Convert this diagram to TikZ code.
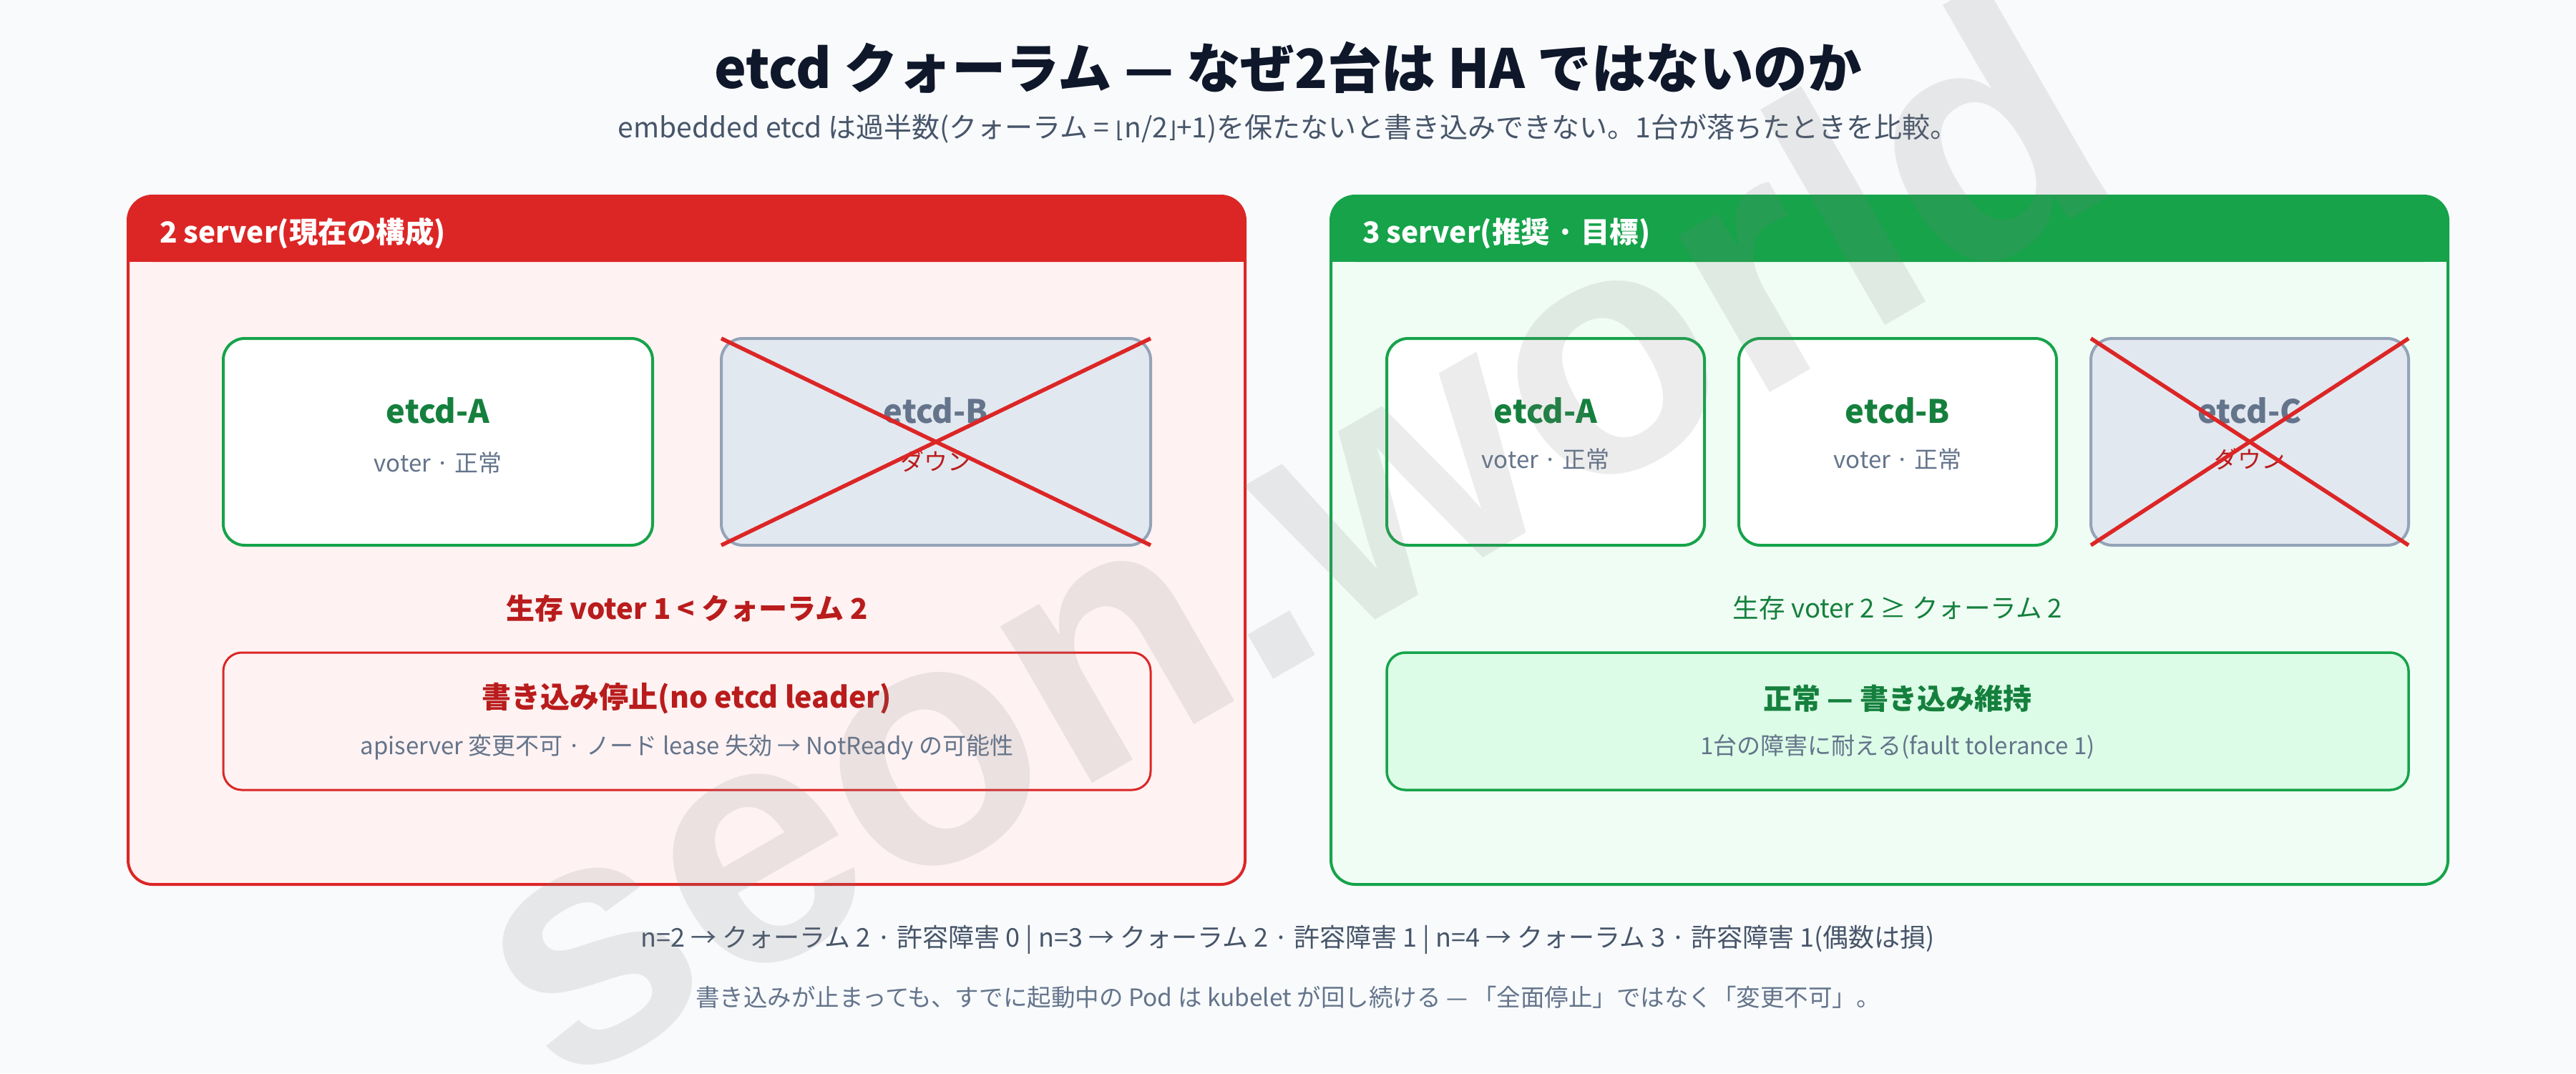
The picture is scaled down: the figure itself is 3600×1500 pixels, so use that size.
\documentclass[tikz,border=0pt]{standalone}
\usepackage{fontspec}
\setmainfont{Noto Sans CJK JP}
\newfontfamily\wmfont{Liberation Sans}
\newfontfamily\symfont{DejaVu Sans}
\definecolor{bgc}{HTML}{F8FAFC}
\definecolor{redc}{HTML}{DC2626}
\definecolor{redbg}{HTML}{FEF2F2}
\definecolor{redtext}{HTML}{B91C1C}
\definecolor{greenc}{HTML}{16A34A}
\definecolor{greenbg}{HTML}{F0FDF4}
\definecolor{greentext}{HTML}{15803D}
\definecolor{greenbox}{HTML}{DCFCE7}
\definecolor{downfill}{HTML}{E2E8F0}
\definecolor{downdraw}{HTML}{94A3B8}
\definecolor{graytext}{HTML}{64748B}
\definecolor{titlec}{HTML}{0F172A}
\definecolor{subc}{HTML}{475569}
\definecolor{wmgray}{HTML}{808080}
\newcommand{\fs}[1]{\fontsize{#1}{#1}\selectfont}
\begin{document}
\begin{tikzpicture}[x=1pt,y=-1pt,
  every node/.style={inner sep=0pt,outer sep=0pt},
  panelbox/.style={rounded corners=34pt,minimum width=1561pt,minimum height=962pt},
  okbox/.style={draw=greenc,fill=white,line width=4pt,rounded corners=30pt,minimum height=289pt},
  downbox/.style={draw=downdraw,fill=downfill,line width=4pt,rounded corners=30pt,minimum height=289pt},
  oklabel/.style={text=greentext,font=\bfseries\fs{45}},
  downlabel/.style={text=graytext,font=\bfseries\fs{45}},
  sublabel/.style={text=graytext,font=\fs{33}},
  downtag/.style={text=redtext,font=\fs{33}},
  crossline/.style={draw=redc,line width=5.5pt},
  headtext/.style={anchor=west,text=white,font=\bfseries\fs{40.5}},
]
\useasboundingbox (0,0) rectangle (3600,1500);
\fill[bgc] (0,0) rectangle (3600,1500);

% ---------- title ----------
\node[text=titlec,font=\bfseries\fs{75.5}] (title) at (1800,94) {etcd クォーラム — なぜ2台は HA ではないのか};
\node[text=subc,font=\fs{39}] (subtitle) at (1800,180) {embedded etcd は過半数(クォーラム = {\symfont\fs{31}⌊}n/2{\symfont\fs{31}⌋}+1)を保たないと書き込みできない。1台が落ちたときを比較。};

% ---------- left panel ----------
\node[panelbox,fill=redbg] (lp) at (959.5,755) {};
\fill[redc,rounded corners=34pt] (179,274) rectangle (1740,366);
\fill[redc] (179,320) rectangle (1740,366);
\draw[redc,line width=4pt,rounded corners=34pt] (lp.north west) rectangle (lp.south east);
\node[headtext] (lph) at (223,326) {2 server(現在の構成)};

\node[okbox,minimum width=600pt] (lA) at (612,617.5) {};
\node[oklabel] (lAt) at (612,574) {etcd-A};
\node[sublabel] (lAs) at (612,647) {voter · 正常};

\node[downbox,minimum width=600pt] (lB) at (1308,617.5) {};
\node[downlabel] (lBt) at (1308,574) {etcd-B};
\node[downtag] (lBs) at (1308,645) {ダウン};
\draw[crossline] (lB.north west) -- (lB.south east);
\draw[crossline] (lB.south west) -- (lB.north east);

\node[text=redtext,font=\bfseries\fs{40}] (lq) at (960,850) {生存 voter 1 < クォーラム 2};

\node[draw=redc,fill=redbg,line width=3pt,rounded corners=26pt,minimum width=1296pt,minimum height=192pt] (lr) at (960,1008) {};
\node[text=redtext,font=\bfseries\fs{41}] (lrt) at (960,976) {書き込み停止(no etcd leader)};
\node[sublabel] (lrs) at (960,1044) {apiserver 変更不可 · ノード lease 失効 → NotReady の可能性};

% ---------- right panel ----------
\node[panelbox,fill=greenbg] (rp) at (2640.5,755) {};
\fill[greenc,rounded corners=34pt] (1860,274) rectangle (3421,366);
\fill[greenc] (1860,320) rectangle (3421,366);
\draw[greenc,line width=4pt,rounded corners=34pt] (rp.north west) rectangle (rp.south east);
\node[headtext] (rph) at (1904,326) {3 server(推奨 · 目標)};

\node[okbox,minimum width=444pt] (rA) at (2160,617.5) {};
\node[oklabel] (rAt) at (2160,574) {etcd-A};
\node[sublabel] (rAs) at (2160,642) {voter · 正常};

\node[okbox,minimum width=444pt] (rB) at (2652,617.5) {};
\node[oklabel] (rBt) at (2652,574) {etcd-B};
\node[sublabel] (rBs) at (2652,642) {voter · 正常};

\node[downbox,minimum width=444pt] (rC) at (3144,617.5) {};
\node[downlabel] (rCt) at (3144,574) {etcd-C};
\node[downtag] (rCs) at (3144,642) {ダウン};
\draw[crossline] (rC.north west) -- (rC.south east);
\draw[crossline] (rC.south west) -- (rC.north east);

\node[text=greentext,font=\fs{36.5}] (rq) at (2652,850) {生存 voter 2 ≥ クォーラム 2};

\node[draw=greenc,fill=greenbox,line width=3.5pt,rounded corners=26pt,minimum width=1428pt,minimum height=192pt] (rr) at (2652,1008) {};
\node[text=greentext,font=\bfseries\fs{40}] (rrt) at (2652,976) {正常 — 書き込み維持};
\node[sublabel] (rrs) at (2652,1044) {1台の障害に耐える(fault tolerance 1)};

% ---------- footer ----------
\node[text=subc,font=\fs{36}] (f1) at (1800,1313) {n=2 → クォーラム 2 · 許容障害 0 | n=3 → クォーラム 2 · 許容障害 1 | n=4 → クォーラム 3 · 許容障害 1(偶数は損)};
\node[text=graytext,font=\fs{33.5}] (f2) at (1800,1394) {書き込みが止まっても、すでに起動中の Pod は kubelet が回し続ける — 「全面停止」ではなく「変更不可」。};

% ---------- watermark ----------
\node[rotate=30,anchor=base,text=wmgray,text opacity=0.15,font=\wmfont\bfseries\fs{480}] (wm) at (1878,892) {seon.world};
\end{tikzpicture}
\end{document}
